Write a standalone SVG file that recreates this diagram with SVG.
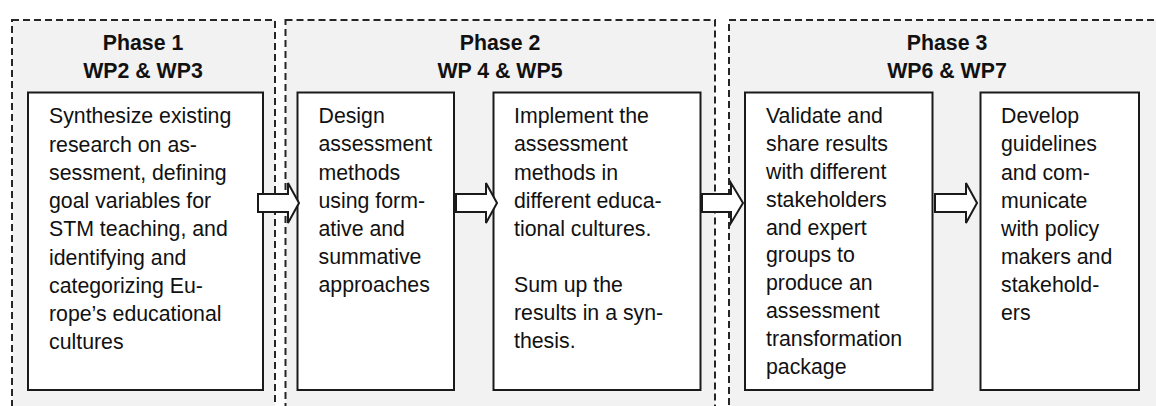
<svg xmlns="http://www.w3.org/2000/svg" width="1156" height="406" viewBox="0 0 1156 406">
<style>
.frame{fill:#f2f2f2;stroke:#262626;stroke-width:2;stroke-dasharray:7 4}
.box{fill:#fff;stroke:#1a1a1a;stroke-width:2}
.head{font-family:"Liberation Sans",Arial,sans-serif;font-size:21.3px;font-weight:bold;fill:#111;text-anchor:middle}
.txt{font-family:"Liberation Sans",Arial,sans-serif;font-size:21.3px;fill:#111}
.arrow{fill:#fff;stroke:#1a1a1a;stroke-width:2;stroke-linejoin:miter}
</style>
<rect width="1156" height="406" fill="#fff"/>
<g id="phase1">
<rect class="frame" x="12" y="20" width="263" height="420"/>
<text class="head" x="143" y="50">Phase 1</text>
<text class="head" x="143" y="78">WP2 &amp; WP3</text>
</g>
<g id="phase2">
<rect class="frame" x="285.5" y="20" width="429.5" height="420"/>
<text class="head" x="500" y="50">Phase 2</text>
<text class="head" x="500" y="78">WP 4 &amp; WP5</text>
</g>
<g id="phase3">
<rect class="frame" x="729" y="20" width="460" height="420"/>
<text class="head" x="947" y="50">Phase 3</text>
<text class="head" x="947" y="78">WP6 &amp; WP7</text>
</g>
<g id="box1">
<rect class="box" x="28" y="92.5" width="235" height="297.5"/>
<text class="txt" x="49" y="123.3"><tspan x="49">Synthesize existing</tspan><tspan x="49" dy="28.25">research on as-</tspan><tspan x="49" dy="28.25">sessment, defining</tspan><tspan x="49" dy="28.25">goal variables for</tspan><tspan x="49" dy="28.25">STM teaching, and</tspan><tspan x="49" dy="28.25">identifying and</tspan><tspan x="49" dy="28.25">categorizing Eu-</tspan><tspan x="49" dy="28.25">rope’s educational</tspan><tspan x="49" dy="28.25">cultures</tspan></text>
</g>
<g id="box2">
<rect class="box" x="297.5" y="92.5" width="156.5" height="297.5"/>
<text class="txt" x="318.5" y="123.3"><tspan x="318.5">Design</tspan><tspan x="318.5" dy="28.1">assessment</tspan><tspan x="318.5" dy="28.1">methods</tspan><tspan x="318.5" dy="28.1">using form-</tspan><tspan x="318.5" dy="28.1">ative and</tspan><tspan x="318.5" dy="28.1">summative</tspan><tspan x="318.5" dy="28.1">approaches</tspan></text>
</g>
<g id="box3">
<rect class="box" x="493.5" y="92.5" width="207" height="297.5"/>
<text class="txt" x="514" y="123.3"><tspan x="514">Implement the</tspan><tspan x="514" dy="28.1">assessment</tspan><tspan x="514" dy="28.1">methods in</tspan><tspan x="514" dy="28.1">different educa-</tspan><tspan x="514" dy="28.1">tional cultures.</tspan><tspan x="514" dy="56.2">Sum up the</tspan><tspan x="514" dy="28.1">results in a syn-</tspan><tspan x="514" dy="28.1">thesis.</tspan></text>
</g>
<g id="box4">
<rect class="box" x="745" y="92.5" width="187.5" height="297.5"/>
<text class="txt" x="766" y="123.3"><tspan x="766">Validate and</tspan><tspan x="766" dy="27.8">share results</tspan><tspan x="766" dy="27.8">with different</tspan><tspan x="766" dy="27.8">stakeholders</tspan><tspan x="766" dy="27.8">and expert</tspan><tspan x="766" dy="27.8">groups to</tspan><tspan x="766" dy="27.8">produce an</tspan><tspan x="766" dy="27.8">assessment</tspan><tspan x="766" dy="27.8">transformation</tspan><tspan x="766" dy="27.8">package</tspan></text>
</g>
<g id="box5">
<rect class="box" x="980.5" y="92.5" width="158.5" height="297.5"/>
<text class="txt" x="1001" y="123.3"><tspan x="1001">Develop</tspan><tspan x="1001" dy="28.1">guidelines</tspan><tspan x="1001" dy="28.1">and com-</tspan><tspan x="1001" dy="28.1">municate</tspan><tspan x="1001" dy="28.1">with policy</tspan><tspan x="1001" dy="28.1">makers and</tspan><tspan x="1001" dy="28.1">stakehold-</tspan><tspan x="1001" dy="28.1">ers</tspan></text>
</g>
<g id="connectors">
<path class="arrow" d="M258,194 H288 V183 L299,203 L288,223 V212 H258 Z"/>
<path class="arrow" d="M456,194 H486 V183 L497,203 L486,223 V212 H456 Z"/>
<path class="arrow" d="M702,194 H731 V183 L743,203 L731,223 V212 H702 Z"/>
<path class="arrow" d="M935,194 H966 V183 L977,203 L966,223 V212 H935 Z"/>
</g>
</svg>
